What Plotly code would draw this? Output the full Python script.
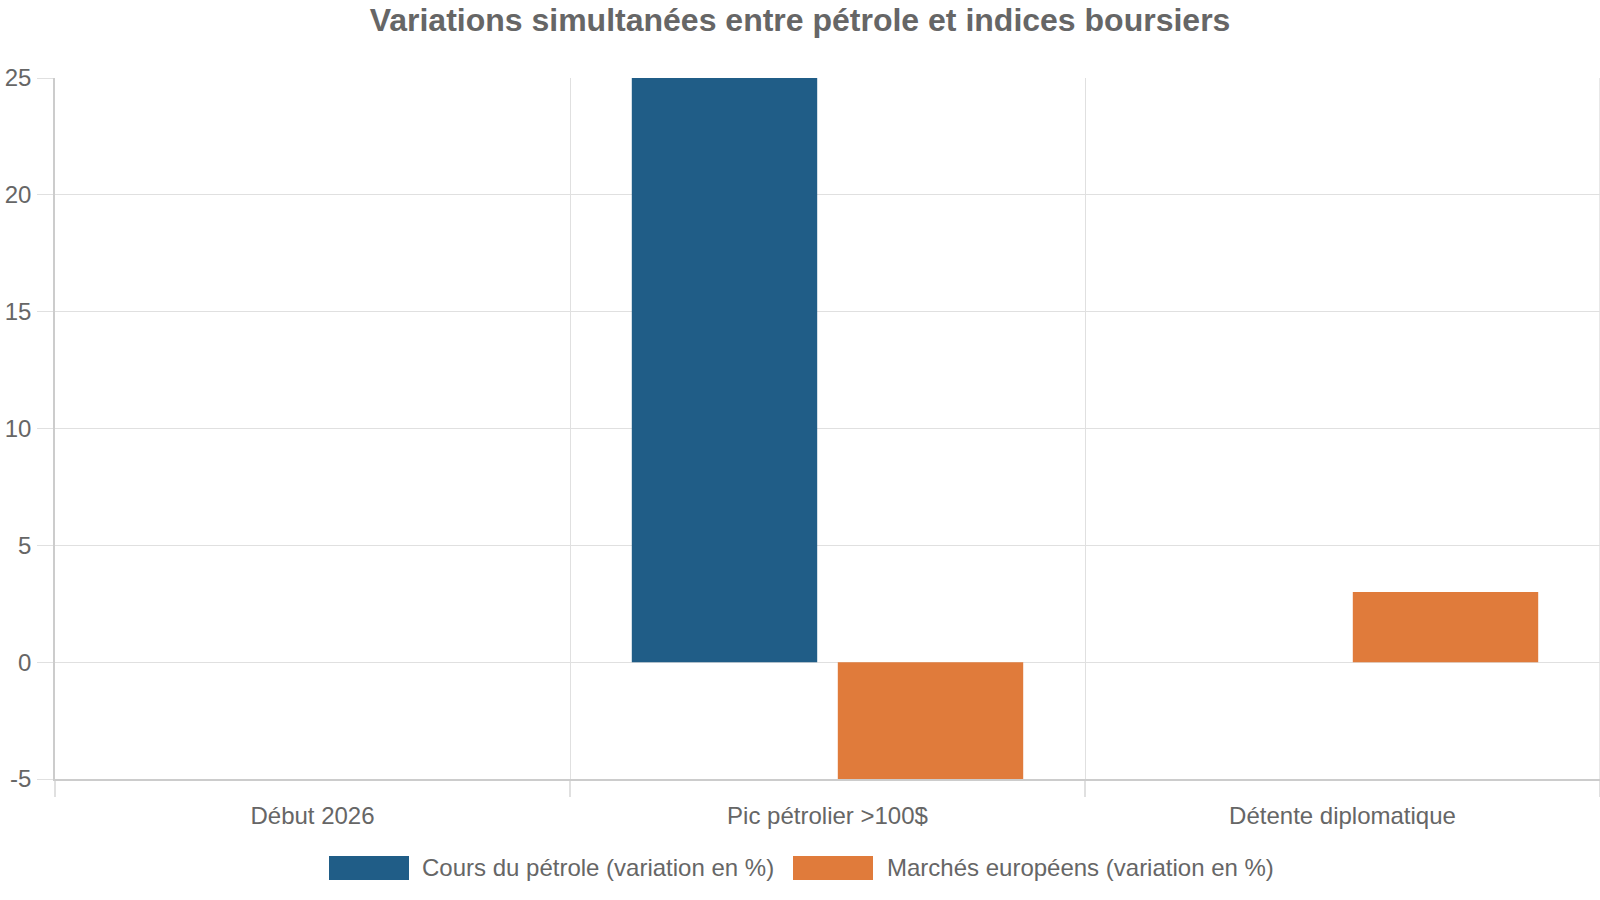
import plotly.graph_objects as go

# ---- data ----
categories = ["Début 2026", "Pic pétrolier >100$", "Détente diplomatique"]
series_names = ["Cours du pétrole (variation en %)", "Marchés européens (variation en %)"]
oil_values = [0, 25, 0]
markets_values = [0, -5, 3]
y_tick_values = [-5, 0, 5, 10, 15, 20, 25]
y_tick_labels = ["-5", "0", "5", "10", "15", "20", "25"]
title_text = "Variations simultanées entre pétrole et indices boursiers"

# ---- style ----
colors = ["#205d87", "#e07b3b"]
FONT = "Liberation Sans, Arial, sans-serif"
TXT = "#666666"
GRID = "#e0e0e0"
AXIS = "#cccccc"
W, H = 1600, 900
ML, MR, MT, MB = 55, 0, 77.5, 121

fig = go.Figure()
for name, vals, col in zip(series_names, [oil_values, markets_values], colors):
    fig.add_trace(go.Bar(x=categories, y=vals, name=name, marker=dict(color=col, line=dict(width=0)),
                         showlegend=False))

def px_to_paper_x(px):
    return (px - ML) / (W - ML - MR)

def px_to_paper_y(py):
    return (H - MB - py) / (H - MT - MB)

# manual legend (large swatches like the reference)
legend_items = [(329, 420), (793, 885)]
shapes = [dict(type="line", xref="paper", yref="paper", x0=1, x1=1, y0=0, y1=1,
               line=dict(color=GRID, width=1.5))]
annotations = []
for (rx, tx), name, col in zip(legend_items, series_names, colors):
    shapes.append(dict(type="rect", xref="paper", yref="paper",
                       x0=px_to_paper_x(rx), x1=px_to_paper_x(rx + 80),
                       y0=px_to_paper_y(880), y1=px_to_paper_y(856),
                       fillcolor=col, line=dict(width=0)))
    annotations.append(dict(text=name, xref="paper", yref="paper",
                            x=px_to_paper_x(tx), y=px_to_paper_y(868),
                            xanchor="left", yanchor="middle", showarrow=False,
                            font=dict(family=FONT, size=24, color=TXT)))

fig.update_layout(
    width=W, height=H,
    margin=dict(l=ML, r=MR, t=MT, b=MB, pad=0),
    paper_bgcolor="white", plot_bgcolor="white",
    barmode="group", bargap=0.2, bargroupgap=0.1,
    title=dict(text="<b>" + title_text + "</b>", x=0.5, xanchor="center",
               y=1 - 19.5 / H, yanchor="middle", yref="container",
               font=dict(family=FONT, size=32, color=TXT)),
    font=dict(family=FONT, size=24, color=TXT),
    shapes=shapes, annotations=annotations,
    xaxis=dict(type="category", tickson="boundaries", showgrid=True, gridcolor=GRID, gridwidth=1,
               ticks="outside", ticklen=16, tickcolor=GRID, tickwidth=1.5,
               showline=True, linecolor=AXIS, linewidth=1.5, ticklabelstandoff=14,
               tickfont=dict(family=FONT, size=24, color=TXT), fixedrange=True),
    yaxis=dict(range=[-5, 25], tickvals=y_tick_values, ticktext=y_tick_labels,
               showgrid=True, gridcolor=GRID, gridwidth=1, zeroline=False,
               ticks="outside", ticklen=16, tickcolor=GRID, tickwidth=1,
               showline=True, linecolor=AXIS, linewidth=1.5, ticklabelstandoff=1,
               tickfont=dict(family=FONT, size=24, color=TXT), fixedrange=True),
)

fig.write_html("out.html")
